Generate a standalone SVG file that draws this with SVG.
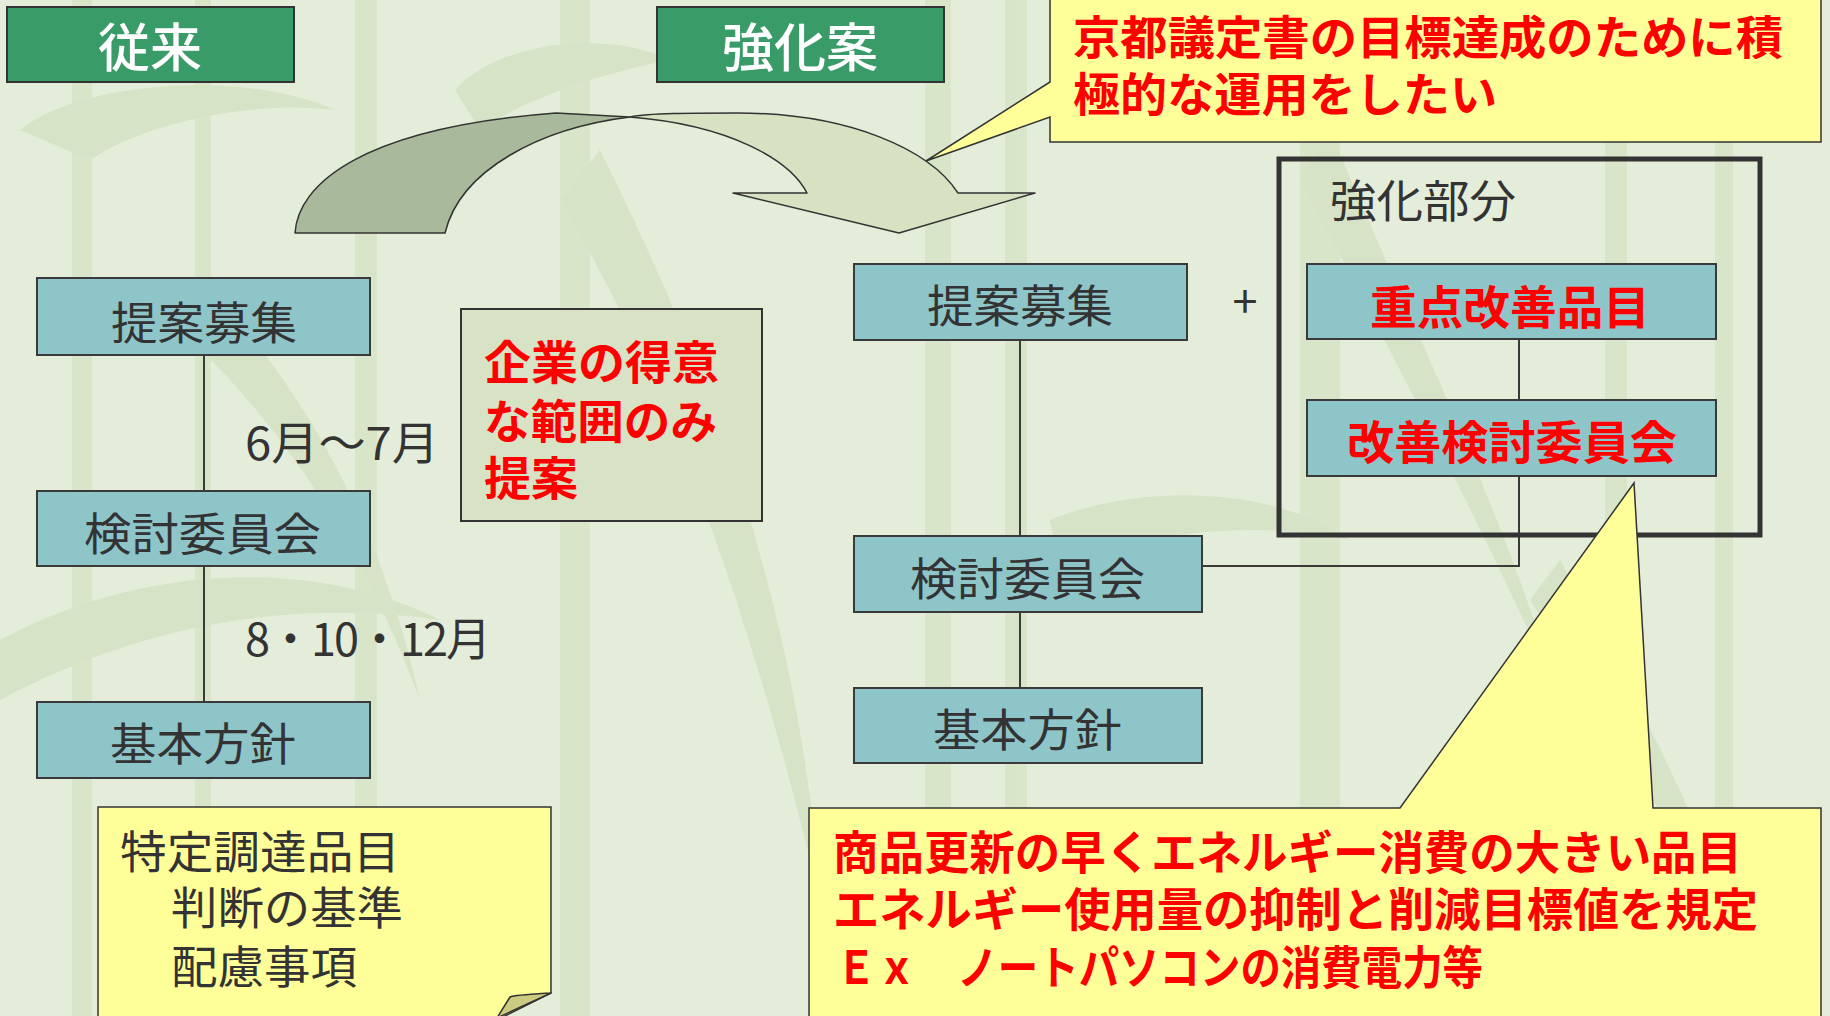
<svg xmlns="http://www.w3.org/2000/svg" width="1830" height="1016" viewBox="0 0 1830 1016">
<defs>
<style>
.bg{fill:#e4edd9}
.st{fill:#d7e4c7}
.lf{fill:#d5e2c3}
.hdr{fill:#389b68;stroke:#333;stroke-width:2}
.hdrt{font-family:"Noto Sans CJK JP","Noto Sans CJK SC",sans-serif;font-size:52px;font-weight:500;fill:#fff;text-anchor:middle}
.box{fill:#8ec5c9;stroke:#3a3a3a;stroke-width:2}
.gt{font-family:"Noto Sans CJK JP","Noto Sans CJK SC",sans-serif;font-size:45px;fill:#333}
.rt{font-family:"Noto Sans CJK JP","Noto Sans CJK SC",sans-serif;font-size:46px;font-weight:700;fill:#ff0000}
.call{fill:#ffff99;stroke:#333;stroke-width:1.5}
.ln{fill:none;stroke:#3a3a3a;stroke-width:2}
.mid{text-anchor:middle}
</style>
</defs>
<rect class="bg" x="0" y="0" width="1830" height="1016"/>
<g id="background" opacity="0.85">
<rect class="st" x="72" y="0" width="20" height="1016"/>
<rect class="st" x="195" y="0" width="16" height="1016"/>
<rect class="st" x="355" y="0" width="22" height="1016"/>
<rect class="st" x="560" y="0" width="30" height="1016"/>
<rect class="st" x="925" y="0" width="26" height="1016"/>
<rect class="st" x="1005" y="0" width="22" height="1016"/>
<rect class="st" x="1300" y="0" width="40" height="1016"/>
<rect class="st" x="1605" y="0" width="22" height="1016"/>
<rect class="st" x="1715" y="0" width="18" height="1016"/>
<path class="lf" d="M20,130 C80,80 250,70 335,110 C260,100 150,120 90,160 Z"/>
<path class="lf" d="M455,90 C500,40 610,30 670,60 C620,70 540,90 480,130 Z"/>
<path class="lf" d="M0,640 C150,560 320,560 440,620 C300,600 150,620 0,700 Z"/>
<path class="lf" d="M600,150 C700,350 800,600 820,900 C760,650 680,400 560,200 Z"/>
<path class="lf" d="M1330,130 C1400,300 1500,500 1560,700 C1480,520 1380,330 1300,180 Z"/>
<path class="lf" d="M1050,520 C1150,480 1280,490 1350,540 C1250,520 1150,530 1060,570 Z"/>
<path class="lf" d="M1560,560 C1640,700 1720,860 1760,1000 C1690,860 1610,720 1530,600 Z"/>
<path class="lf" d="M200,280 C300,380 380,520 420,700 C360,540 280,420 170,320 Z"/>
</g>
<g id="connectors">
<line class="ln" x1="204" y1="355" x2="204" y2="491"/>
<line class="ln" x1="204" y1="566" x2="204" y2="702"/>
<line class="ln" x1="1020" y1="340" x2="1020" y2="536"/>
<line class="ln" x1="1020" y1="612" x2="1020" y2="688"/>
<line class="ln" x1="1519" y1="339" x2="1519" y2="400"/>
<polyline class="ln" points="1519,476 1519,566 1202,566"/>
</g>
<g id="arrow">
<path d="M630,117 C650,113 690,113 737,113 C850,113 930,150 958,193 L1035,193 L899,233 L733,193 L807,193 C790,160 730,125 630,117 Z" fill="#d6e2c2" stroke="#333" stroke-width="1.5" stroke-linejoin="round"/>
<path d="M295,233 C298,185 360,128 556,113 L630,117 C540,128 460,170 445,233 Z" fill="#a9b99b" stroke="#333" stroke-width="1.5" stroke-linejoin="round"/>
</g>
<g id="hdr-old">
<rect class="hdr" x="7" y="7" width="287" height="75"/>
<text class="hdrt" x="150" y="67">従来</text>
</g>
<g id="hdr-new">
<rect class="hdr" x="657" y="7" width="287" height="75"/>
<text class="hdrt" x="800" y="67">強化案</text>
</g>
<g id="callout-top">
<path class="call" d="M1050,-2 L1821,-2 L1821,142 L1050,142 L1050,117 L926,161 L1050,82 Z"/>
<text class="rt" font-size="47"><tspan x="1073" y="54" textLength="710" lengthAdjust="spacingAndGlyphs">京都議定書の目標達成のために積</tspan><tspan x="1073" y="111" textLength="424" lengthAdjust="spacingAndGlyphs">極的な運用をしたい</tspan></text>
</g>
<g id="old-1">
<rect class="box" x="37" y="278" width="333" height="77"/>
<text class="gt" x="111" y="340" textLength="186" lengthAdjust="spacingAndGlyphs">提案募集</text>
</g>
<g id="old-2">
<rect class="box" x="37" y="491" width="333" height="75"/>
<text class="gt" x="84" y="551" textLength="237" lengthAdjust="spacingAndGlyphs">検討委員会</text>
</g>
<g id="old-3">
<rect class="box" x="37" y="702" width="333" height="76"/>
<text class="gt" x="110" y="761" textLength="186" lengthAdjust="spacingAndGlyphs">基本方針</text>
</g>
<g id="label-1">
<text class="gt" x="245" y="460" textLength="194" lengthAdjust="spacingAndGlyphs">6月～7月</text>
</g>
<g id="label-2">
<text class="gt" x="245" y="656" textLength="246" lengthAdjust="spacing">8・10・12月</text>
</g>
<g id="note-old">
<rect x="461" y="309" width="301" height="212" fill="#d8e3c6" stroke="#333" stroke-width="2"/>
<text class="rt"><tspan x="484" y="379" textLength="235" lengthAdjust="spacingAndGlyphs">企業の得意</tspan><tspan x="484" y="438" textLength="233" lengthAdjust="spacingAndGlyphs">な範囲のみ</tspan><tspan x="484" y="495" textLength="94" lengthAdjust="spacingAndGlyphs">提案</tspan></text>
</g>
<g id="note-items">
<path class="call" d="M98,1020 L98,807 L551,807 L551,993 L497,1020 Z"/>
<path d="M551,993 C535,994 515,995 510,997 L497,1018 Z" fill="#cccc80" stroke="#333" stroke-width="1.5" stroke-linejoin="round"/>
<text class="gt"><tspan x="120" y="869" textLength="280" lengthAdjust="spacingAndGlyphs">特定調達品目</tspan><tspan x="171" y="925" textLength="232" lengthAdjust="spacingAndGlyphs">判断の基準</tspan><tspan x="171" y="984" textLength="186" lengthAdjust="spacingAndGlyphs">配慮事項</tspan></text>
</g>
<g id="new-1">
<rect class="box" x="854" y="264" width="333" height="76"/>
<text class="gt" x="927" y="323" textLength="186" lengthAdjust="spacingAndGlyphs">提案募集</text>
</g>
<g id="plus">
<text class="gt mid" x="1245" y="318" font-size="34">+</text>
</g>
<g id="new-2">
<rect class="box" x="854" y="536" width="348" height="76"/>
<text class="gt" x="910" y="596" textLength="235" lengthAdjust="spacingAndGlyphs">検討委員会</text>
</g>
<g id="new-3">
<rect class="box" x="854" y="688" width="348" height="75"/>
<text class="gt" x="933" y="747" textLength="189" lengthAdjust="spacingAndGlyphs">基本方針</text>
</g>
<g id="enhance">
<rect x="1279" y="159" width="481" height="376" fill="none" stroke="#333" stroke-width="5"/>
<text class="gt" x="1330" y="218" textLength="186" lengthAdjust="spacingAndGlyphs">強化部分</text>
</g>
<g id="enh-1">
<rect class="box" x="1307" y="264" width="409" height="75"/>
<text class="rt" x="1370" y="324" textLength="280" lengthAdjust="spacingAndGlyphs">重点改善品目</text>
</g>
<g id="enh-2">
<rect class="box" x="1307" y="400" width="409" height="76"/>
<text class="rt" x="1347" y="459" textLength="330" lengthAdjust="spacingAndGlyphs">改善検討委員会</text>
</g>
<g id="callout-bottom">
<path class="call" d="M809,1020 L809,808 L1400,808 L1634,483 L1653,808 L1821,808 L1821,1020 Z"/>
<text class="rt"><tspan x="833" y="869" textLength="909" lengthAdjust="spacingAndGlyphs">商品更新の早くエネルギー消費の大きい品目</tspan><tspan x="833" y="926" textLength="925" lengthAdjust="spacingAndGlyphs">エネルギー使用量の抑制と削減目標値を規定</tspan><tspan x="836" y="984" textLength="647" lengthAdjust="spacingAndGlyphs">Ｅｘ　ノートパソコンの消費電力等</tspan></text>
</g>
</svg>
